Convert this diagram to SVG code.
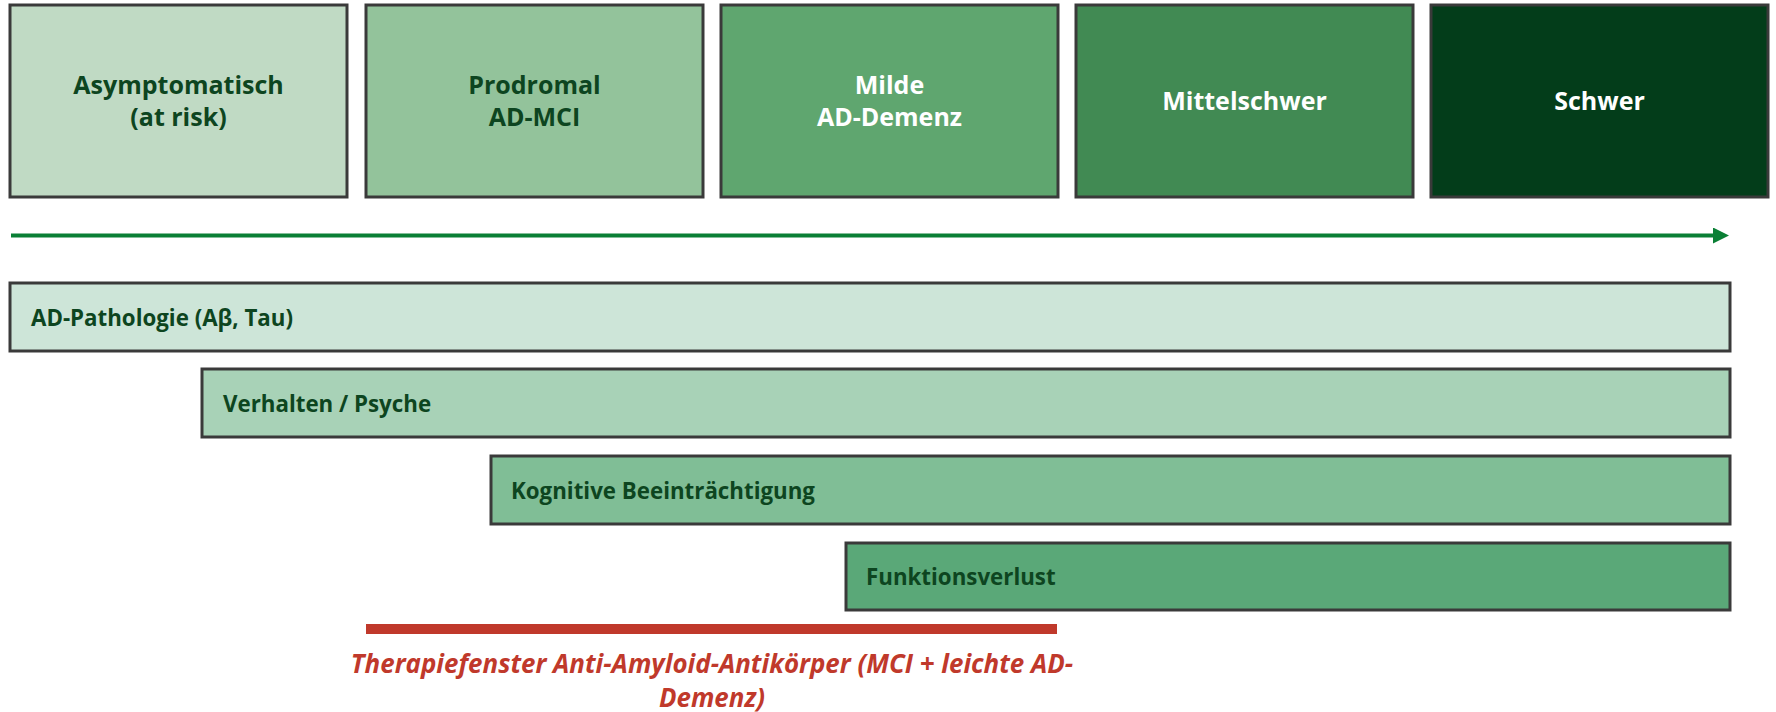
<svg xmlns="http://www.w3.org/2000/svg" width="1776" height="712" viewBox="0 0 1776 712">
  <defs>
    <marker id="arrowHead" viewBox="0 0 16 16" refX="0" refY="8" markerWidth="16" markerHeight="16" markerUnits="userSpaceOnUse" orient="auto">
      <path d="M0,0 L16,8 L0,16 Z" fill="#0a7f35"/>
    </marker>
    <style>
      .stage { stroke: #3a3a3a; stroke-width: 3; }
      .bar { stroke: #3a3a3a; stroke-width: 3; }
      .t { font-family: "Open Sans", "Liberation Sans", sans-serif; font-weight: 700; }
      .stageText { font-size: 25px; text-anchor: middle; }
      .barText { font-size: 22.3px; fill: #0d4520; }
      .dark { fill: #0d4520; }
      .light { fill: #ffffff; }
      .axis { stroke: #0a7f35; stroke-width: 4; fill: none; }
      .window { stroke: #c0392b; stroke-width: 10; }
      .windowText { font-size: 25.9px; font-style: italic; fill: #c0392b; text-anchor: middle; }
    </style>
  </defs>

  <rect width="1776" height="712" fill="#ffffff"/>

  <!-- disease stages -->
  <g id="stage-asymptomatic">
    <rect class="stage" x="10" y="5" width="337" height="192" fill="#c0dac4"/>
    <text class="t stageText dark" x="178.5" y="94">Asymptomatisch</text>
    <text class="t stageText dark" x="178.5" y="126">(at risk)</text>
  </g>
  <g id="stage-prodromal">
    <rect class="stage" x="366" y="5" width="337" height="192" fill="#93c39b"/>
    <text class="t stageText dark" x="534.5" y="94">Prodromal</text>
    <text class="t stageText dark" x="534.5" y="126">AD-MCI</text>
  </g>
  <g id="stage-mild">
    <rect class="stage" x="721" y="5" width="337" height="192" fill="#5fa66f"/>
    <text class="t stageText light" x="889.5" y="94">Milde</text>
    <text class="t stageText light" x="889.5" y="126">AD-Demenz</text>
  </g>
  <g id="stage-moderate">
    <rect class="stage" x="1076" y="5" width="337" height="192" fill="#418a53"/>
    <text class="t stageText light" x="1244.5" y="110">Mittelschwer</text>
  </g>
  <g id="stage-severe">
    <rect class="stage" x="1431" y="5" width="337" height="192" fill="#033d1a"/>
    <text class="t stageText light" x="1599.5" y="110">Schwer</text>
  </g>

  <!-- time axis -->
  <g id="connectors">
    <line class="axis" x1="11" y1="235.5" x2="1713" y2="235.5" marker-end="url(#arrowHead)"/>
  </g>

  <!-- symptom domains -->
  <g id="bar-pathology">
    <rect class="bar" x="10" y="283" width="1720" height="68" fill="#cde5d8"/>
    <text class="t barText" x="31" y="326">AD-Pathologie (Aβ, Tau)</text>
  </g>
  <g id="bar-behaviour">
    <rect class="bar" x="202" y="369" width="1528" height="68" fill="#a8d2b7"/>
    <text class="t barText" x="223" y="412">Verhalten / Psyche</text>
  </g>
  <g id="bar-cognition">
    <rect class="bar" x="491" y="456" width="1239" height="68" fill="#80be96"/>
    <text class="t barText" x="511" y="499">Kognitive Beeinträchtigung</text>
  </g>
  <g id="bar-function">
    <rect class="bar" x="846" y="543" width="884" height="67" fill="#5aa878"/>
    <text class="t barText" x="866" y="585">Funktionsverlust</text>
  </g>

  <!-- treatment window -->
  <g id="treatment-window">
    <line class="window" x1="366" y1="629" x2="1057" y2="629"/>
    <text class="t windowText" x="712" y="673">Therapiefenster Anti-Amyloid-Antikörper (MCI + leichte AD-</text>
    <text class="t windowText" x="712" y="707">Demenz)</text>
  </g>
</svg>
